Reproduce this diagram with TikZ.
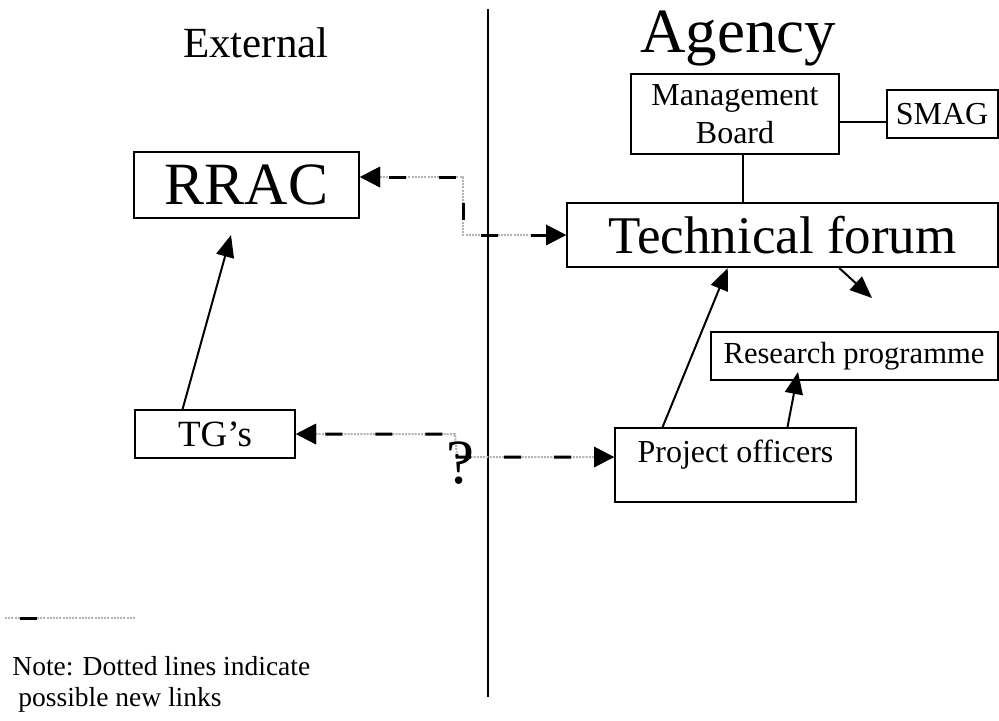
\documentclass[tikz,border=0pt]{standalone}
\usepackage{fontspec}
\setmainfont{Liberation Serif}
\usetikzlibrary{arrows.meta,calc}
\begin{document}
\begin{tikzpicture}[x=0.5pt,y=-0.5pt,
  boxnode/.style={draw, line width=1pt, inner sep=0pt},
  solidarrow/.style={line width=1pt, -{Triangle[length=11pt,width=9pt]}},
  plainline/.style={line width=1pt},
  dotlink/.style={draw=black!30, line width=1pt, dash pattern=on 1pt off 0.6pt,
     postaction={draw=black, line width=1.5pt, dash pattern=on 8.5pt off 16.5pt, dash phase=20pt}},
  legendlink/.style={draw=black!30, line width=1pt, dash pattern=on 1pt off 0.6pt,
     postaction={draw=black, line width=1.5pt, dash pattern=on 8.5pt off 100pt, dash phase=101pt}},
  Dt/.tip={Triangle[length=10pt,width=10pt,color=black]}
]
\useasboundingbox (0,0) rectangle (999,720);

% boxes
\node[boxnode, minimum width=112.5pt, minimum height=33pt, font=\fontsize{30}{36}\selectfont] (rrac) at (246.5,185) {RRAC};
\node[boxnode, minimum width=215.5pt, minimum height=32pt, font=\fontsize{26.5}{32}\selectfont] (tf) at (782.5,235) {Technical forum};
\node[boxnode, align=center, minimum width=104pt, minimum height=40pt, font=\fontsize{16}{19}\selectfont] (mb) at (735,114) {Management\\Board};
\node[boxnode, minimum width=55.5pt, minimum height=24pt, font=\fontsize{16}{19}\selectfont] (smag) at (942,114) {SMAG};
\node[boxnode, minimum width=143.5pt, minimum height=24pt, font=\fontsize{15.3}{18}\selectfont] (rp) at (854,356) {Research programme};
\node[boxnode, minimum width=120.5pt, text height=17pt, text depth=20pt, font=\fontsize{16}{19}\selectfont] (po) at (735.5,465) {Project officers};
\node[boxnode, minimum width=80pt, minimum height=24pt, font=\fontsize{18.5}{22}\selectfont] (tg) at (215,434) {TG’s};

% headings
\node[font=\fontsize{21.5}{26}\selectfont, anchor=base] (ext) at (256,57) {External};
\node[font=\fontsize{31.5}{38}\selectfont, anchor=base] (ag) at (738,52) {Agency};

% divider
\coordinate (d1) at (488,9);
\coordinate (d2) at (488,697);
\draw[plainline] (d1) -- (d2);

% dotted links
\coordinate (k1) at (463,177);
\draw[dotlink, Dt-Dt] (rrac.east |- k1) -- (k1) |- (tf.west);
\coordinate (k2) at (455,434);
\coordinate (k3) at (457,457);
\draw[dotlink, Dt-Dt] (tg.east) -- (k2) -- (k3) -- (po.west |- k3);
\node[font=\fontsize{31.5}{38}\selectfont] (q) at (460,463) {?};

% solid arrows
\coordinate (a1) at ($(tg.north west)!0.3!(tg.north east)$);
\coordinate (a1e) at (231,235);
\draw[solidarrow] (a1) -- (a1e);
\coordinate (a2) at ($(po.north west)!0.2!(po.north east)$);
\coordinate (a2e) at ($(tf.south west)!0.3735!(tf.south east)$);
\draw[solidarrow] (a2) -- (a2e);
\coordinate (a3) at ($(po.north west)!0.714!(po.north east)$);
\coordinate (a3e) at (798,372);
\draw[solidarrow] (a3) -- (a3e);
\coordinate (a4) at ($(tf.south west)!0.631!(tf.south east)$);
\coordinate (a4e) at (872,298);
\draw[solidarrow] (a4) -- (a4e);

% plain links
\coordinate (m1) at ($(mb.south west)!0.538!(mb.south east)$);
\draw[plainline] (m1) -- (m1 |- tf.north);
\coordinate (s1) at (860,122);
\draw[plainline] (mb.east |- s1) -- (smag.west |- s1);

% legend
\coordinate (l1) at (5,618);
\coordinate (l2) at (135,618);
\draw[legendlink] (l1) -- (l2);
\node[font=\fontsize{13.75}{15.5}\selectfont, anchor=base west, align=left, inner sep=0pt] (note) at (12,706) {Note: Dotted lines indicate\\\hspace{3pt}possible new links};
\end{tikzpicture}
\end{document}
